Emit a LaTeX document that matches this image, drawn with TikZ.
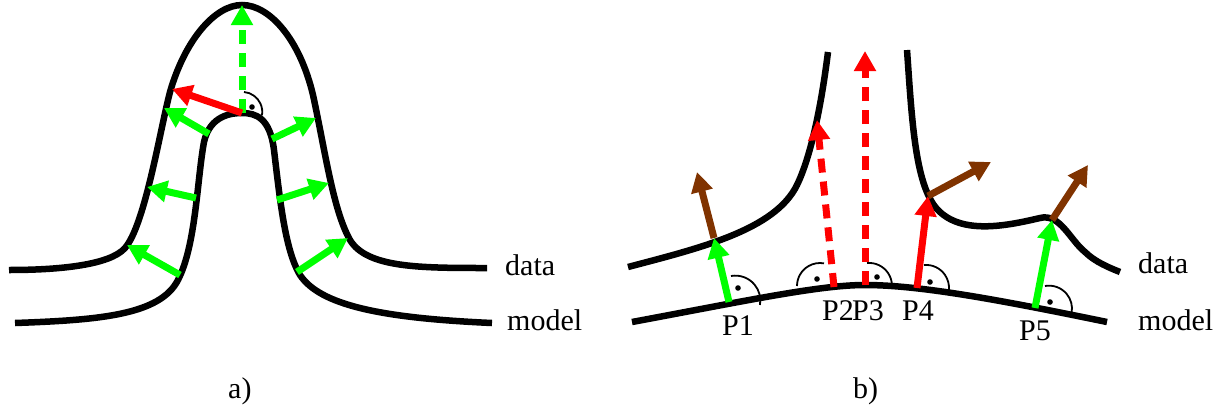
\documentclass[tikz,border=0pt]{standalone}
\usepackage{fontspec}
\setmainfont{Liberation Serif}
\usetikzlibrary{arrows.meta}
\definecolor{vgreen}{RGB}{0,255,0}
\definecolor{vred}{RGB}{255,0,0}
\definecolor{vbrown}{RGB}{128,51,0}
\tikzset{
  curve/.style={line width=6.5pt, black},
  vec/.style={line width=7pt, -{Triangle[length=20pt,width=21pt]}},
  dvec/.style={vec, dash pattern=on 14pt off 9pt},
  ra/.style={line width=1.8pt, black},
  lbl/.style={font=\fontsize{30}{36}\selectfont, inner sep=0pt, anchor=base west},
  plbl/.style={font=\fontsize{30}{36}\selectfont, inner sep=0pt, anchor=base},
}
\begin{document}
\begin{tikzpicture}[x=1pt,y=-1pt]
\useasboundingbox (0,0) rectangle (1226,410);

% ---------- panel a ----------
\draw[curve] (9,270) .. controls (60,270) and (110,265) .. (125,248)
  .. controls (145,225) and (160,130) .. (170,92)
  .. controls (185,40) and (215,5) .. (242,5)
  .. controls (270,5) and (300,40) .. (313,95)
  .. controls (325,150) and (333,210) .. (350,240)
  .. controls (367,268) and (420,268) .. (487,268);
\draw[curve] (15,323) .. controls (100,320) and (160,315) .. (178,280)
  .. controls (196,245) and (197,180) .. (204,142)
  .. controls (210,115) and (232,113) .. (242,113)
  .. controls (256,113) and (270,118) .. (274,150)
  .. controls (280,200) and (285,250) .. (300,275)
  .. controls (320,305) and (380,318) .. (492,323);

\coordinate (a0) at (242,113);
\coordinate (a0t) at (242,5);
\coordinate (a0r) at (172,89);
\coordinate (a1s) at (209,134); \coordinate (a1t) at (164,108);
\coordinate (a2s) at (272,139); \coordinate (a2t) at (316,118);
\coordinate (a3s) at (196,198); \coordinate (a3t) at (147,187);
\coordinate (a4s) at (277,200); \coordinate (a4t) at (329,183);
\coordinate (a5s) at (180,275); \coordinate (a5t) at (127,245);
\coordinate (a6s) at (297,272); \coordinate (a6t) at (348,238);

\draw[dvec, vgreen] (a0) -- (a0t);
\draw[vec, vred] (a0) -- (a0r);
\draw[vec, vgreen] (a1s) -- (a1t);
\draw[vec, vgreen] (a2s) -- (a2t);
\draw[vec, vgreen] (a3s) -- (a3t);
\draw[vec, vgreen] (a4s) -- (a4t);
\draw[vec, vgreen] (a5s) -- (a5t);
\draw[vec, vgreen] (a6s) -- (a6t);
\draw[ra] (244,92) arc[start angle=-85, end angle=10, radius=20];
\fill (252,107) circle (2.8pt);

\node[lbl] (ad) at (505,275) {data};
\node[lbl] (am) at (507,330) {model};
\node[lbl] (al) at (228,398) {a)};

% ---------- panel b ----------
\draw[curve] (632,322) .. controls (750,300) and (820,285) .. (865,285)
  .. controls (920,285) and (1000,300) .. (1107,322);
\draw[curve] (628,267) .. controls (700,248) and (775,230) .. (797,185)
  .. controls (812,154) and (822,100) .. (828,52);
\draw[curve] (907,50) .. controls (912,120) and (915,190) .. (940,212)
  .. controls (965,235) and (1010,225) .. (1040,218)
  .. controls (1060,213) and (1070,240) .. (1085,252)
  .. controls (1095,262) and (1110,268) .. (1120,272);

\coordinate (p1) at (729,302); \coordinate (p1d) at (714,238); \coordinate (p1b) at (697,172);
\coordinate (p2) at (834,287); \coordinate (p2t) at (817,120);
\coordinate (p3) at (865,285); \coordinate (p3t) at (865,51);
\coordinate (p4) at (917,288); \coordinate (p4d) at (928,196); \coordinate (p4b) at (991,162);
\coordinate (p5) at (1035,308); \coordinate (p5d) at (1052,220); \coordinate (p5b) at (1088,165);

\draw[vec, vgreen] (p1) -- (p1d);
\draw[vec, vbrown] (p1d) -- (p1b);
\draw[dvec, vred] (p2) -- (p2t);
\draw[dvec, vred] (p3) -- (p3t);
\draw[vec, vred] (p4) -- (p4d);
\draw[vec, vbrown] (p4d) -- (p4b);
\draw[vec, vgreen] (p5) -- (p5d);
\draw[vec, vbrown] (p5d) -- (p5b);

% right-angle marks
\draw[ra] (731,276) arc[start angle=-100, end angle=10, radius=25];
\fill (738,288) circle (2.8pt);
\draw[ra] (797,286) arc[start angle=180, end angle=280, radius=23];
\fill (817,279) circle (2.8pt);
\draw[ra] (867,263) arc[start angle=-95, end angle=0, radius=23];
\fill (877,277) circle (2.8pt);
\draw[ra] (924,265) arc[start angle=-95, end angle=5, radius=23];
\fill (930,282) circle (2.8pt);
\draw[ra] (1045,286) arc[start angle=-100, end angle=10, radius=23];
\fill (1050,302) circle (2.8pt);

\node[plbl] (l1) at (738,335) {P1};
\node[plbl] (l2) at (838,320) {P2};
\node[plbl] (l3) at (868,320) {P3};
\node[plbl] (l4) at (918,320) {P4};
\node[plbl] (l5) at (1035,340) {P5};

\node[lbl] (bd) at (1138,273) {data};
\node[lbl] (bm) at (1138,330) {model};
\node[lbl] (bl) at (853,398) {b)};
\end{tikzpicture}
\end{document}
